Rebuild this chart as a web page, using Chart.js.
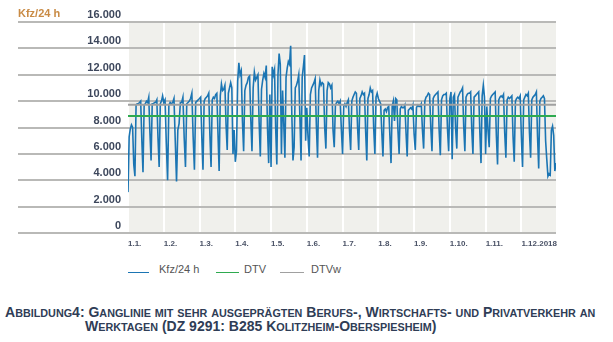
<!DOCTYPE html>
<html>
<head>
<meta charset="utf-8">
<script src="https://cdn.jsdelivr.net/npm/chart.js@4/dist/chart.umd.min.js"></script>
<style>
  body { margin: 0; background: #fff; }
  #wrap { position: relative; width: 613px; height: 342px; overflow: hidden; font-family: "Liberation Sans", Arial, sans-serif; }
  #c { position: absolute; left: 0; top: 0; }
  .unit { position: absolute; left: 18px; top: 7px; font: bold 11px "Liberation Sans", Arial, sans-serif; color: #c98b45; }
  .lg-line { position: absolute; top: 272px; height: 0; border-top: 1.5px solid; }
  .lg-text { position: absolute; top: 263px; font: 11px/13px "Liberation Sans", Arial, sans-serif; color: #555; }
  .cap { position: absolute; font: bold 14px/14px "Liberation Sans", Arial, sans-serif; color: #2f3d56; white-space: nowrap; }
  .cap .s { font-size: 10.8px; text-transform: uppercase; }
</style>
</head>
<body>
<div id="wrap">
  <canvas id="c" width="613" height="262"></canvas>
  <div class="unit">Kfz/24 h</div>

  <div class="lg-line" style="left:128px;width:21px;border-color:#1b75b3"></div>
  <div class="lg-text" style="left:159px">Kfz/24 h</div>
  <div class="lg-line" style="left:216px;width:23px;border-color:#2eaa4f"></div>
  <div class="lg-text" style="left:244px">DTV</div>
  <div class="lg-line" style="left:280px;width:24px;border-color:#a0a0a0"></div>
  <div class="lg-text" style="left:311px">DTVw</div>

  <div class="cap" id="cap1" style="left:5px;top:305px"></div>
  <div class="cap" id="cap2" style="left:85px;top:319px"></div>
</div>
<script>
// Tageswerte Kfz/24 h, 2018
let jan = [3100,7300,7900,8200,8000,5200,4300, 9700,9800,9800,9900,10000,7000,4600, 9700,9800,10000,9900,10300,7600,5500, 9800,9800,9900,9900,10100,7200,5000, 9800,10000,10400];
let feb = [9900,10100,6800,4000, 9700,9900,9800,9900,10200,7000,3900, 7800,8300,9900,9900,10300,7200,5000, 9800,9900,10000,10200,10600,7300,4800, 9900,10000,10100];
let mar = [10200,10300,7200,4800, 10000,10200,10300,10400,10600,7400,5000, 10100,10300,10200,10500,10600,7500,4700, 10400,11300,10800,10900,11200,8200,6300, 10600,11000,11400,11000,6000,7800];
let apr = [5400, 6200,11500,12900,12000,12300,8500,6200, 10800,11200,11400,11800,11900,8600,6200, 11000,12200,11600,11800,12000,8400,5800, 10900,11600,12100,11800,12700,8000,5300, 10500];
let may = [5000,12600,12000,12400,8000,5200, 12000,13600,12800,6000,10800,8300,5700, 11800,12500,13000,12800,14200,9000,5500, 6500,11000,11200,11500,12000,8800,5500, 11800,12600,13500,7000];
let jun = [9500,7300,5800, 10500,11000,11200,11400,11700,8200,5700, 10800,11600,11200,11400,11300,8000,6400, 10800,11400,11300,11000,11200,7800,6500, 9700,9900,10000,9800,10000,7800];
let jul = [6000, 9600,9800,9600,9900,10100,7800,6300, 10000,10300,10500,10700,10600,8000,6300, 10200,10400,10700,10500,10600,7700,5500, 10200,10500,11000,10700,10800,7900,6000, 10300,10600];
let aug = [10200,10000,9800,7600,5800, 9300,9400,9200,9500,9600,7400,5300, 9600,10000,8500,10200,10100,7800,6000, 9400,9600,9500,9500,9700,7600,5800, 9300,9400,9500,9400,9700];
let sep = [7500,6300, 9500,9700,9600,9600,9800,7800,6400, 10000,10300,10400,10600,10500,8000,6200, 10200,10400,10500,10600,10700,7800,5900, 10100,10400,10500,10500,10600,7900,6200];
let oct = [10200,10700,5600,10300,10500,7900,6400, 10300,10500,10700,10800,11000,8100,6200, 10300,10500,10600,10600,10700,7800,6000, 10300,10400,10500,10600,10700,7600,5300, 10400,11200,10300];
let nov = [6000,9600,7800,6500, 10200,10400,10500,10600,10700,7400,5200, 10100,10300,10400,10300,10500,7600,5700, 10100,10300,10200,10300,10400,7300,5400, 10000,10200,10300,10200,10400];
let dec = [7200,5000, 10100,10300,10500,10400,10600,7600,5700, 10100,10300,10400,10500,10700,7300,4900, 10000,10200,10300,10400,10200,7000,5600, 4300,4500,4400,7800,8100,7400,4700, 5300];

let dtv = 8880;
let dtvw = 9720;

let monthLabels = ["1.1.","1.2.","1.3.","1.4.","1.5.","1.6.","1.7.","1.8.","1.9.","1.10.","1.11.","1.12.2018"];
let yTicks = [0,2000,4000,6000,8000,10000,12000,14000,16000];

let caption1 = "Abbildung4: Ganglinie mit sehr ausgeprägten Berufs-, Wirtschafts- und Privatverkehr an";
let caption2 = "Werktagen (DZ 9291: B285 Kolitzheim-Oberspiesheim)";

let fontFam = '"Liberation Sans", Arial, sans-serif';

function fmt(v){
    return String(v).replace(/\B(?=(\d{3})+(?!\d))/g, '.');
}

// small caps by hand: lowercase runs get a smaller uppercase span
function smallCaps(el, text){
    let parts = text.match(/[a-zäöüß]+|[^a-zäöüß]+/g);
    for(let p of parts){
        if(/[a-zäöüß]/.test(p)){
            let s = document.createElement('span');
            s.className = 's';
            s.textContent = p;
            el.appendChild(s);
        } else {
            el.appendChild(document.createTextNode(p));
        }
    }
}
smallCaps(document.getElementById('cap1'), caption1);
smallCaps(document.getElementById('cap2'), caption2);

// each month gets the same width on the axis, days spread inside it
let months = [jan,feb,mar,apr,may,jun,jul,aug,sep,oct,nov,dec];
let kfz = [];
for(let m in months){
    let len = months[m].length;
    for(let i in months[m]){
        kfz.push({x: Number(m) + i/len, y: months[m][i]});
    }
}
let xMax = 11 + 30/31;

let panel = {
    id: 'panel',
    beforeDraw(chart){
        let a = chart.chartArea;
        let c = chart.ctx;
        c.save();
        c.fillStyle = '#f0f0ec';
        c.fillRect(a.left, a.top, a.right - a.left, a.bottom - a.top);
        c.restore();
    }
};

let ctx = document.getElementById('c').getContext('2d');
let myChart = new Chart(ctx, {
    type: 'line',
    data: {
        datasets: [{
            label: 'DTV',
            data: [{x: 0, y: dtv}, {x: xMax, y: dtv}],
            borderColor: '#2eaa4f',
            borderWidth: 2,
            pointRadius: 0,
            order: 1
        },
        {
            label: 'DTVw',
            data: [{x: 0, y: dtvw}, {x: xMax, y: dtvw}],
            borderColor: '#a0a0a0',
            borderWidth: 2,
            pointRadius: 0,
            order: 2
        },
        {
            label: 'Kfz/24 h',
            data: kfz,
            borderColor: '#1b75b3',
            borderWidth: 1.6,
            pointRadius: 0,
            tension: 0,
            order: 3
        }]
    },
    options: {
        responsive: false,
        animation: false,
        devicePixelRatio: 1,
        layout: { padding: { left: 18, top: 22, right: 57, bottom: 0 } },
        plugins: {
            legend: { display: false },
            tooltip: { enabled: false }
        },
        scales: {
            x: {
                type: 'linear',
                min: 0,
                max: xMax,
                afterBuildTicks: s => { s.ticks = monthLabels.map((l, i) => ({value: i})); },
                afterFit: s => { s.height = 29; },
                grid: { color: '#ffffff', lineWidth: 2, drawTicks: false },
                border: { display: false },
                ticks: {
                    autoSkip: false,
                    maxRotation: 0,
                    align: 'start',
                    padding: 6,
                    color: '#4a5266',
                    font: { family: fontFam, size: 8, weight: 'bold' },
                    callback: (v, i) => monthLabels[i]
                }
            },
            y: {
                min: 0,
                max: 16000,
                afterBuildTicks: s => { s.ticks = yTicks.map(v => ({value: v})); },
                afterFit: s => { s.width = 110; },
                grid: { color: '#b9b9b7', lineWidth: 2, tickLength: 110 },
                border: { display: false },
                ticks: {
                    padding: -103,
                    labelOffset: -7,
                    color: '#3d475c',
                    font: { family: fontFam, size: 11, weight: 'bold' },
                    callback: v => fmt(v)
                }
            }
        }
    },
    plugins: [panel]
});
</script>
</body>
</html>
